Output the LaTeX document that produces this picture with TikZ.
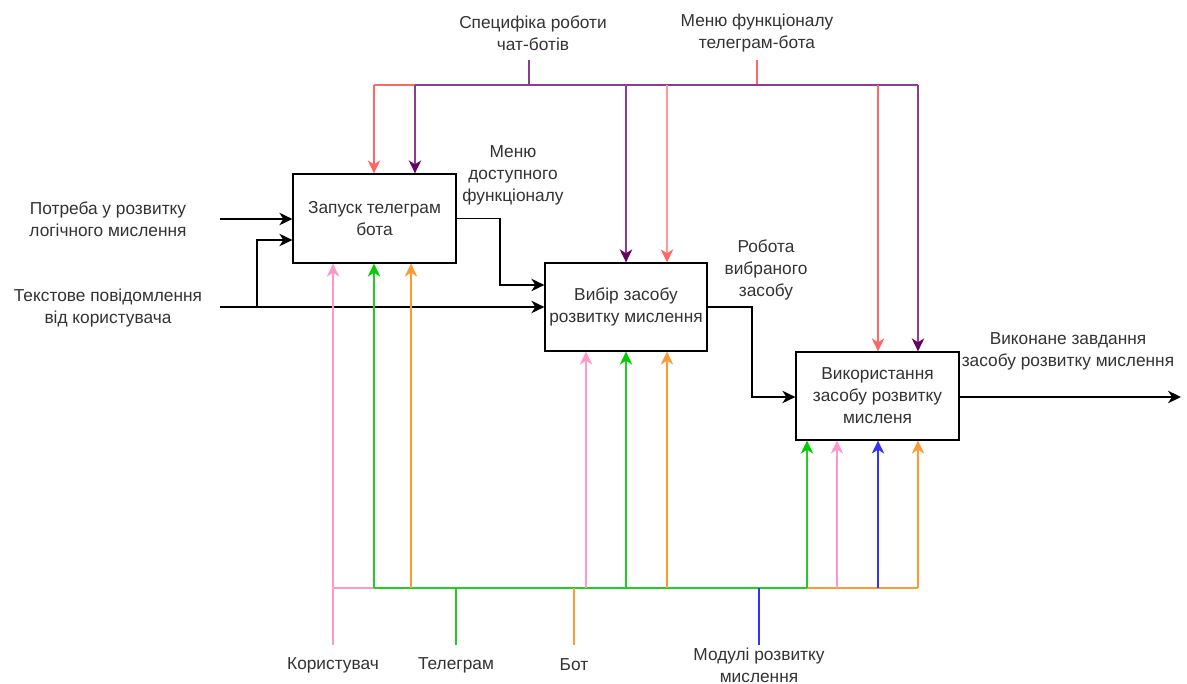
\documentclass[tikz,border=0pt]{standalone}
\usepackage{fontspec}
\setmainfont{Liberation Sans}
\usetikzlibrary{arrows.meta}
\definecolor{salmon}{HTML}{FF6666}
\definecolor{lsalmon}{HTML}{FF9999}
\definecolor{purpH}{HTML}{660066}
\definecolor{purpL}{HTML}{8F3B8F}
\definecolor{pinkc}{HTML}{FF99CC}
\definecolor{greenc}{HTML}{22CC22}
\definecolor{greenH}{HTML}{00CC00}
\definecolor{orangec}{HTML}{FF9933}
\definecolor{bluec}{HTML}{3333FF}
\definecolor{txt}{HTML}{333333}
\tikzset{
  headA/.style={-{Stealth[length=13pt,width=12.5pt,inset=4pt,color=#1]}}
}
\begin{document}
\begin{tikzpicture}[x=1pt,y=-1pt,
  font=\fontsize{17.3}{22}\selectfont,
  box/.style={draw, line width=1.3pt, inner sep=0pt, align=center, text=txt},
  lbl/.style={align=center, inner sep=0pt, text=txt},
  ln/.style={line width=1.4pt},
  arr/.style={line width=1.4pt, -{Stealth[length=13pt,width=12.5pt,inset=4pt]}}]
\useasboundingbox (0,0) rectangle (1187,684);
\fill[white] (0,0) rectangle (1187,684);

% boxes
\node[box, minimum width=163pt, minimum height=89pt] (b1) at (374.5,218.5) {Запуск телеграм\\бота};
\node[box, minimum width=162pt, minimum height=88pt] (b2) at (626,307) {Вибір засобу\\розвитку мислення};
\node[box, minimum width=163pt, minimum height=88pt] (b3) at (877.5,396) {Використання\\засобу розвитку\\мисленя};

% labels
\node[lbl] (spec) at (533,33) {Специфіка роботи\\чат-ботів};
\node[lbl] (menuf) at (757,33) {Меню функціоналу\\телеграм-бота};
\node[lbl] (need) at (108,219) {Потреба у розвитку\\логічного мислення};
\node[lbl] (msg) at (108,308) {Текстове повідомлення\\від користувача};
\node[lbl] (menud) at (513,175) {Меню\\доступного\\функціоналу};
\node[lbl] (work) at (766,270) {Робота\\вибраного\\засобу};
\node[lbl] (done) at (1068,351) {Виконане завдання\\засобу розвитку мислення};
\node[lbl] (user) at (333,665) {Користувач};
\node[lbl] (tg) at (456,665) {Телеграм};
\node[lbl] (bot) at (574,665) {Бот};
\node[lbl] (mod) at (759,665) {Модулі розвитку\\мислення};

% ---------- controls (top)
\coordinate (sA) at (529,60);
\coordinate (sB) at (757,60);
\coordinate (c1) at (374,85);
\coordinate (c2) at (415,85);
\coordinate (c3) at (626,85);
\coordinate (c4) at (667,85);
\coordinate (c5) at (878,85);
\coordinate (c6) at (918,85);
\draw[ln,salmon] (sB) -- (sB |- c1);
\draw[ln,salmon] (c1) -- (c5);
\draw[ln,purpL] (c2) -- (c6);
\draw[ln,purpL] (sA) -- (sA |- c1);
\draw[arr,salmon] (c1) -- (c1 |- b1.north);
\draw[arr,purpL,headA=purpH] (c2) -- (c2 |- b1.north);
\draw[arr,purpL,headA=purpH] (c3) -- (c3 |- b2.north);
\draw[arr,lsalmon,headA=salmon] (c4) -- (c4 |- b2.north);
\draw[arr,salmon] (c5) -- (c5 |- b3.north);
\draw[arr,purpL,headA=purpH] (c6) -- (c6 |- b3.north);

% ---------- inputs / outputs
\coordinate (inA) at (220,219);
\coordinate (inB) at (220,307);
\coordinate (jB) at (257,307);
\coordinate (jB2) at (257,240);
\coordinate (k1) at (500,285);
\coordinate (k2) at (752,397);
\coordinate (outE) at (1181,397);
\draw[arr] (inA) -- (inA -| b1.west);
\draw[arr] (inB) -- (inB -| b2.west);
\draw[arr] (jB) -- (jB2) -- (jB2 -| b1.west);
\draw[arr] (b1.east) -| (k1) -- (k1 -| b2.west);
\draw[arr] (b2.east) -| (k2) -- (k2 -| b3.west);
\draw[arr] (k2 -| b3.east) -- (outE);

% ---------- mechanisms (bottom)
\coordinate (m0) at (333,588);
\coordinate (m1) at (374,588);
\coordinate (m2) at (411,588);
\coordinate (m3) at (586,588);
\coordinate (m4) at (626,588);
\coordinate (m5) at (667,588);
\coordinate (m6) at (807,588);
\coordinate (m7) at (837,588);
\coordinate (m8) at (878,588);
\coordinate (m9) at (918,588);
\coordinate (pu) at (333,645);
\coordinate (pt) at (456,645);
\coordinate (pb) at (574,645);
\coordinate (pm) at (759,645);
\draw[ln,pinkc] (m0) -- (m1);
\draw[ln,orangec] (m6) -- (m9);
\draw[ln,greenc] (m1) -- (m6);
\draw[ln,greenc] (pt) -- (pt |- m1);
\draw[ln,orangec] (pb) -- (pb |- m1);
\draw[ln,bluec] (pm) -- (pm |- m1);
\draw[arr,pinkc] (pu) -- (pu |- b1.south);
\draw[arr,greenc,headA=greenH] (m1) -- (m1 |- b1.south);
\draw[arr,orangec] (m2) -- (m2 |- b1.south);
\draw[arr,pinkc] (m3) -- (m3 |- b2.south);
\draw[arr,greenc,headA=greenH] (m4) -- (m4 |- b2.south);
\draw[arr,orangec] (m5) -- (m5 |- b2.south);
\draw[arr,greenc,headA=greenH] (m6) -- (m6 |- b3.south);
\draw[arr,pinkc] (m7) -- (m7 |- b3.south);
\draw[arr,bluec] (m8) -- (m8 |- b3.south);
\draw[arr,orangec] (m9) -- (m9 |- b3.south);
\end{tikzpicture}
\end{document}
